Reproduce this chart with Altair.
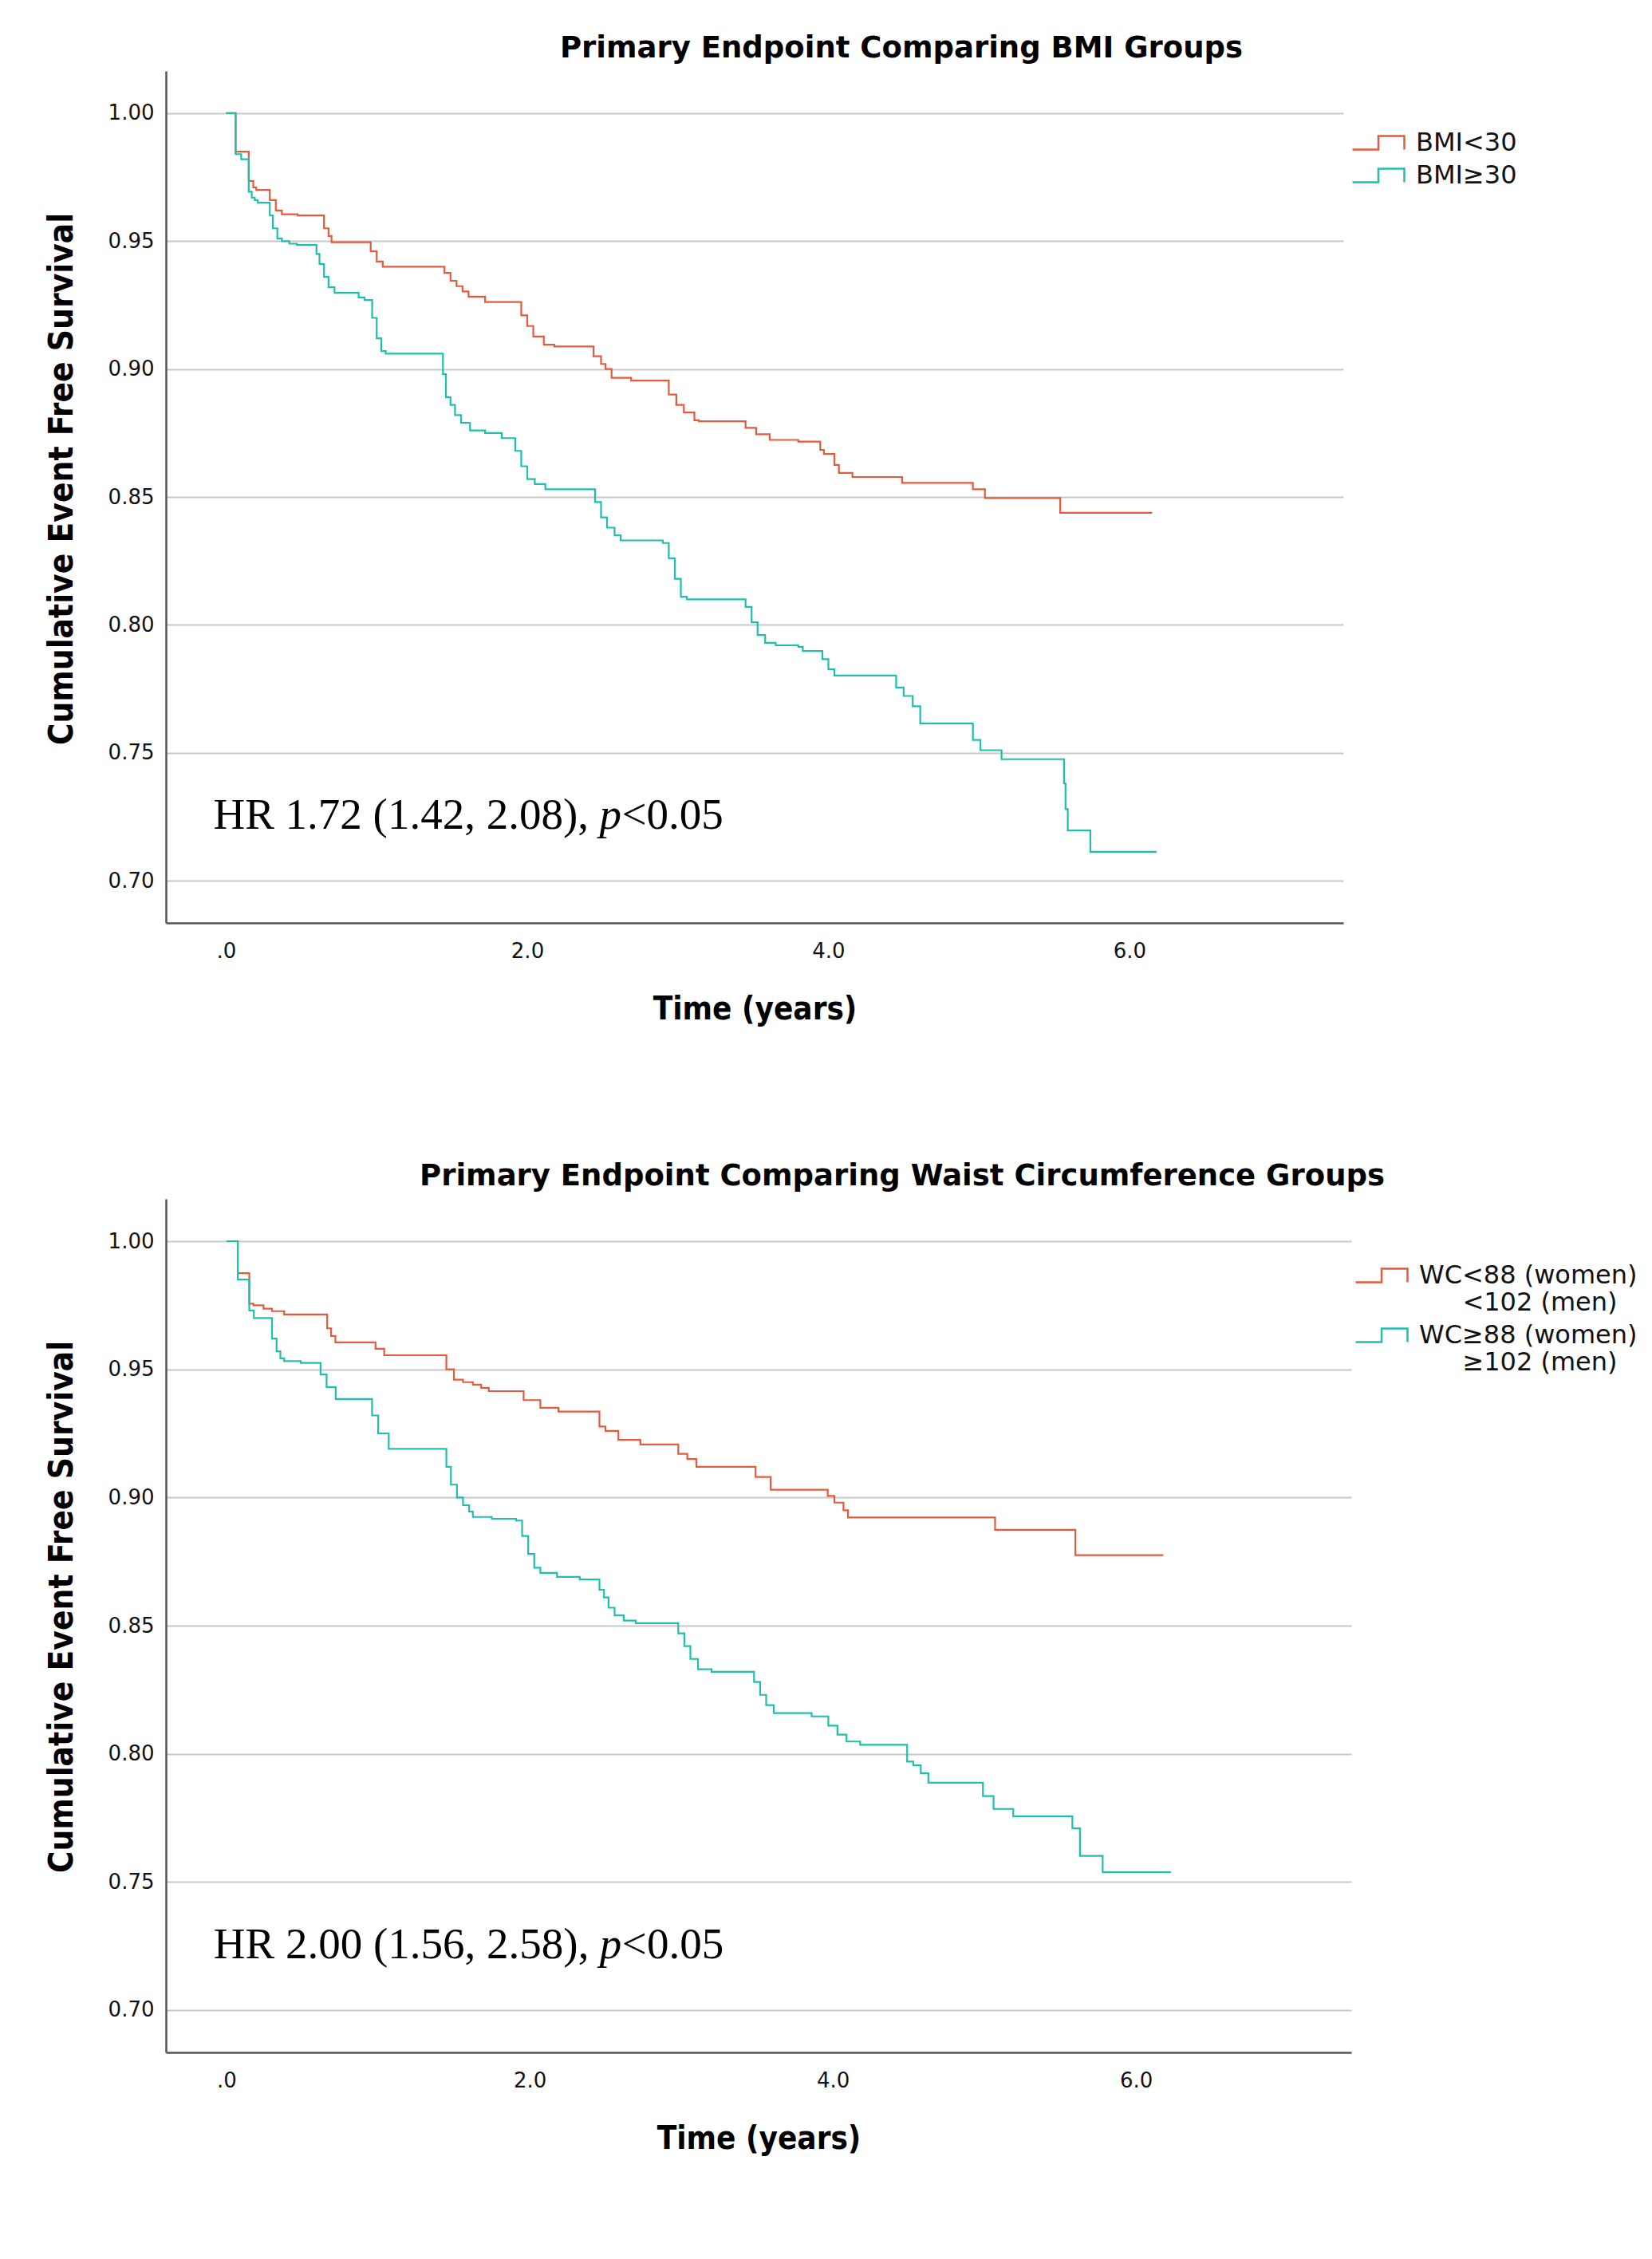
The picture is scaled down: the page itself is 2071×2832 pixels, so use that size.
import altair as alt
import pandas as pd

# ---------------- data ----------------
x_ticks = [0, 2, 4, 6]
y_ticks = [0.70, 0.75, 0.80, 0.85, 0.90, 0.95, 1.00]

bmi_groups = ["BMI<30", "BMI≥30"]
wc_groups = ["WC<88 (women) <102 (men)", "WC≥88 (women) ≥102 (men)"]
wc_line1 = ["WC<88 (women)", "WC≥88 (women)"]
wc_line2 = ["<102 (men)", "≥102 (men)"]
group_colors = ["#E35A3C", "#1FBFAE"]

# Kaplan-Meier steps: (time in years, survival from that time on)
bmi_lt30 = [(0, 1.000), (0.063, 0.985), (0.15, 0.9735), (0.18, 0.971), (0.20, 0.970),
            (0.29, 0.966), (0.33, 0.962), (0.37, 0.9605), (0.475, 0.960), (0.65, 0.955),
            (0.68, 0.952), (0.70, 0.9496), (0.96, 0.946), (1.00, 0.942), (1.04, 0.940),
            (1.45, 0.9376), (1.49, 0.9345), (1.53, 0.9324), (1.57, 0.9303), (1.61, 0.9283),
            (1.72, 0.9262), (1.96, 0.921), (2.00, 0.9168), (2.04, 0.9127), (2.11, 0.9095),
            (2.18, 0.9088), (2.44, 0.905), (2.49, 0.902), (2.52, 0.900), (2.56, 0.8966),
            (2.69, 0.8955), (2.94, 0.890), (2.99, 0.886), (3.04, 0.883), (3.11, 0.880),
            (3.14, 0.8796), (3.45, 0.877), (3.52, 0.8745), (3.61, 0.8723), (3.80, 0.8716),
            (3.946, 0.8684), (3.97, 0.8668), (4.04, 0.8625), (4.07, 0.8594), (4.16, 0.8578),
            (4.49, 0.8555), (4.96, 0.853), (5.04, 0.8496), (5.54, 0.8438), (6.15, 0.8438)]

bmi_ge30 = [(0, 1.000), (0.063, 0.984), (0.10, 0.982), (0.15, 0.9693), (0.17, 0.967),
            (0.19, 0.966), (0.21, 0.965), (0.29, 0.960), (0.31, 0.955), (0.34, 0.951),
            (0.37, 0.950), (0.42, 0.949), (0.47, 0.9485), (0.60, 0.945), (0.62, 0.941),
            (0.65, 0.936), (0.68, 0.932), (0.72, 0.9298), (0.88, 0.928), (0.92, 0.927),
            (0.97, 0.920), (1.00, 0.912), (1.03, 0.907), (1.06, 0.906), (1.44, 0.898),
            (1.46, 0.889), (1.49, 0.886), (1.52, 0.882), (1.56, 0.879), (1.62, 0.876),
            (1.72, 0.875), (1.83, 0.873), (1.92, 0.868), (1.96, 0.862), (2.00, 0.857),
            (2.05, 0.855), (2.12, 0.853), (2.45, 0.848), (2.49, 0.842), (2.53, 0.838),
            (2.58, 0.835), (2.62, 0.833), (2.90, 0.832), (2.94, 0.826), (2.98, 0.818),
            (3.02, 0.811), (3.06, 0.810), (3.45, 0.807), (3.49, 0.801), (3.53, 0.796),
            (3.58, 0.793), (3.65, 0.792), (3.80, 0.7914), (3.83, 0.7898), (3.96, 0.7866),
            (4.00, 0.7826), (4.04, 0.7802), (4.45, 0.7755), (4.50, 0.7722), (4.56, 0.7682),
            (4.61, 0.7615), (4.96, 0.755), (5.01, 0.751), (5.15, 0.7475), (5.565, 0.738),
            (5.575, 0.728), (5.59, 0.7196), (5.74, 0.7113), (6.18, 0.7113)]

wc_lt = [(0, 1.000), (0.074, 0.9875), (0.15, 0.9756), (0.177, 0.975), (0.244, 0.9737),
         (0.30, 0.9727), (0.38, 0.9714), (0.664, 0.966), (0.69, 0.963), (0.718, 0.9605),
         (0.983, 0.958), (1.04, 0.9555), (1.45, 0.950), (1.50, 0.946), (1.56, 0.945),
         (1.625, 0.944), (1.68, 0.9428), (1.73, 0.9415), (1.96, 0.938), (2.07, 0.935),
         (2.19, 0.9335), (2.46, 0.9277), (2.50, 0.926), (2.585, 0.9225), (2.73, 0.9207),
         (2.98, 0.917), (3.04, 0.915), (3.10, 0.912), (3.49, 0.908), (3.59, 0.903),
         (3.966, 0.9006), (4.01, 0.898), (4.07, 0.895), (4.10, 0.8922), (5.07, 0.8874),
         (5.60, 0.8775), (6.18, 0.8775)]

wc_ge = [(0, 1.000), (0.074, 0.985), (0.15, 0.973), (0.18, 0.970), (0.30, 0.962),
         (0.33, 0.957), (0.355, 0.9543), (0.38, 0.9532), (0.49, 0.9525), (0.62, 0.948),
         (0.66, 0.943), (0.72, 0.9384), (0.96, 0.932), (1.00, 0.925), (1.07, 0.919),
         (1.45, 0.912), (1.48, 0.905), (1.52, 0.900), (1.56, 0.897), (1.60, 0.8945),
         (1.625, 0.8924), (1.75, 0.8917), (1.91, 0.891), (1.95, 0.885), (1.99, 0.878),
         (2.03, 0.8726), (2.07, 0.8706), (2.18, 0.869), (2.33, 0.868), (2.46, 0.864),
         (2.49, 0.861), (2.52, 0.857), (2.56, 0.854), (2.62, 0.852), (2.70, 0.851),
         (2.98, 0.847), (3.02, 0.842), (3.06, 0.837), (3.11, 0.833), (3.20, 0.832),
         (3.48, 0.828), (3.52, 0.823), (3.56, 0.819), (3.61, 0.8159), (3.86, 0.8146),
         (3.97, 0.811), (4.03, 0.8075), (4.09, 0.8048), (4.18, 0.8035), (4.49, 0.797),
         (4.53, 0.7955), (4.58, 0.7924), (4.63, 0.7887), (4.99, 0.7835), (5.06, 0.7785),
         (5.19, 0.7756), (5.58, 0.7709), (5.63, 0.7602), (5.78, 0.7538), (6.23, 0.7538)]

hr_bmi = ["HR 1.72 (1.42, 2.08),", "p", "<0.05"]
hr_wc = ["HR 2.00 (1.56, 2.58),", "p", "<0.05"]
hr_pos = (-0.085, 0.7202)

titles = ["Primary Endpoint Comparing BMI Groups",
          "Primary Endpoint Comparing Waist Circumference Groups"]

# ---------------- styling ----------------
SANS = "DejaVu Sans"
AXT = "'DejaVu Sans Condensed', 'DejaVu Sans'"
SERIF = "Liberation Serif"
STEP_SYMBOL = "M-3.25,0.85L0,0.85L0,-0.85L3.25,-0.85L3.25,0.85"
INDENT = "\u200b\u2003\u2002\u2009"   # width of "WC" so the 2nd line sits under "<"


def frame(groups, series):
    rows = []
    for g, steps in zip(groups, series):
        for t, s in steps:
            rows.append({"group": g, "t": t, "s": s})
    return pd.DataFrame(rows)


def panel(df, groups, title_text, dx_title, hr_parts, label_expr, width, height,
          legend_x, legend_y, row_pad):
    xenc = alt.X("t:Q", scale=alt.Scale(domain=[-0.4, 7.42], nice=False, zero=False),
                 axis=alt.Axis(values=x_ticks, title="Time (years)", grid=False,
                               labelExpr="datum.value == 0 ? '.0' : format(datum.value, '.1f')"))
    yenc = alt.Y("s:Q", scale=alt.Scale(domain=[0.6835, 1.0165], nice=False, zero=False),
                 axis=alt.Axis(values=y_ticks, format=".2f", grid=True,
                               title="Cumulative Event Free Survival"))
    legend_kw = dict(title=None, orient="none", legendX=legend_x, legendY=legend_y,
                     symbolType=STEP_SYMBOL, symbolSize=400, symbolStrokeWidth=2.5,
                     symbolFillColor="transparent", labelFont=SANS, labelFontSize=32,
                     labelColor="#111111", labelOffset=31, rowPadding=row_pad,
                     labelLimit=2000)
    if label_expr:
        legend_kw["labelExpr"] = label_expr
    lines = alt.Chart(df).mark_line(interpolate="step-after", strokeWidth=2.2).encode(
        x=xenc, y=yenc,
        color=alt.Color("group:N", scale=alt.Scale(domain=groups, range=group_colors),
                        legend=alt.Legend(**legend_kw)),
    )
    hr_df = pd.DataFrame({"t": [hr_pos[0]], "s": [hr_pos[1]],
                          "a": [hr_parts[0]], "b": [hr_parts[1]], "c": [hr_parts[2]]})
    base_txt = alt.Chart(hr_df)
    t1 = base_txt.mark_text(align="left", baseline="alphabetic", font=SERIF, fontSize=55,
                            color="black").encode(x="t:Q", y="s:Q", text="a:N")
    t2 = base_txt.mark_text(align="left", baseline="alphabetic", font=SERIF, fontSize=55,
                            fontStyle="italic", dx=484, color="black").encode(
        x="t:Q", y="s:Q", text="b:N")
    t3 = base_txt.mark_text(align="left", baseline="alphabetic", font=SERIF, fontSize=55,
                            dx=512, color="black").encode(x="t:Q", y="s:Q", text="c:N")
    return alt.layer(lines, t1, t2, t3).properties(
        width=width, height=height,
        title=alt.TitleParams(title_text, font=SANS, fontSize=37, fontWeight="bold",
                              color="black", anchor="middle", dx=dx_title, offset=-20,
                              baseline="alphabetic"),
    )


df_bmi = frame(bmi_groups, [bmi_lt30, bmi_ge30])
df_wc = frame(wc_groups, [wc_lt, wc_ge])

wc_expr = ("datum.label == '%s' ? ['%s', '%s%s'] : ['%s', '%s%s']"
           % (wc_groups[0], wc_line1[0], INDENT, wc_line2[0],
              wc_line1[1], INDENT, wc_line2[1]))

top = panel(df_bmi, bmi_groups, titles[0], 184, hr_bmi, None, 1476, 1068,
            1504, 74, 9)
bottom = panel(df_wc, wc_groups, titles[1], 180, hr_wc, wc_expr, 1486, 1070,
               1508, 80, 9)

chart = alt.vconcat(top, bottom, spacing=171).resolve_scale(color="independent").properties(
    padding={"left": 48, "top": 34, "right": 10, "bottom": 10},
    background="white",
).configure_view(stroke=None).configure_axis(
    domainColor="#555555", domainWidth=2.5, gridColor="#c8c8c8", gridWidth=2,
    ticks=False, tickSize=0, labelFont=SANS, labelFontSize=26, labelColor="#111111",
    titleFont=AXT, titleFontSize=40, titleFontWeight="bold", titleColor="black",
).configure_axisX(labelPadding=22, titlePadding=40).configure_axisY(
    labelPadding=15, titlePadding=36, titleFontSize=42, titleY=511)

chart.save("out.html", embed_options={"renderer": "svg", "actions": False})
